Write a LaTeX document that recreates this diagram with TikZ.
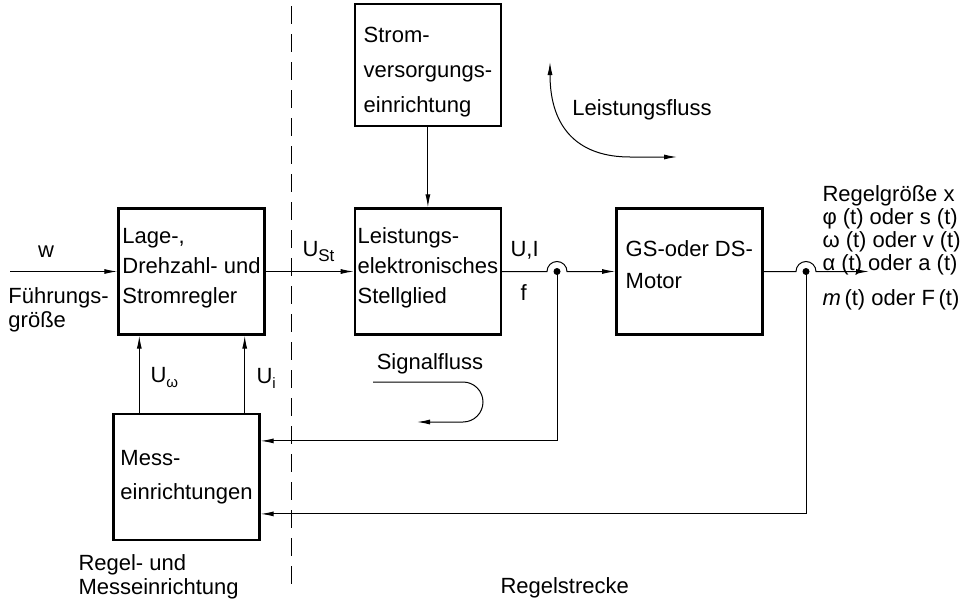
\documentclass[tikz,border=0pt]{standalone}
\usepackage{fontspec}
\setmainfont{Liberation Sans}
\usetikzlibrary{arrows.meta,positioning}

\begin{document}
\begin{tikzpicture}[x=1pt,y=-1pt, line width=1pt, >={Latex[length=13pt,width=5pt]},
  box/.style={draw,line width=2.4pt,minimum width=146pt,minimum height=126pt,align=left,inner xsep=2pt,inner ysep=4pt,font=\fontsize{22}{30}\selectfont},
  lbl/.style={inner sep=0pt,align=left,font=\fontsize{22}{24}\selectfont}]
\useasboundingbox (0,0) rectangle (962,605);
% blocks
\node[box] (rgl) at (191.5,271.5) {Lage-,\\Drehzahl- und\\Stromregler\\[-18pt]\mbox{}};
\node[box,right=88pt of rgl] (stg) {Leistungs-\\elektronisches\\Stellglied\\[-18pt]\mbox{}};
\node[box,above=80pt of stg,minimum height=122pt,font=\fontsize{22}{35}\selectfont] (svg) {\rule{0pt}{29pt}Strom-\\versorgungs-\\einrichtung};
\node[box,right=113pt of stg,font=\fontsize{22}{32}\selectfont] (mot) {GS-oder DS-\\Motor\\[-18pt]\mbox{}};
\node[box,below=77pt of rgl,xshift=-5pt,font=\fontsize{22}{34}\selectfont] (mes) {Mess-\\einrichtungen};
% separation line
\coordinate (sep1) at (291,6);
\coordinate (sep2) at (291,592);
\draw[dash pattern=on 18pt off 10pt] (sep1) -- (sep2);
% signal path
\coordinate (win) at (10,271.5);
\coordinate (j1) at (557,271.5);
\coordinate (j2) at (806,271.5);
\coordinate (xout) at (869,271.5);
\draw[->] (win) -- (rgl.west);
\draw[->] (rgl) -- (stg);
\draw[->] (svg) -- (stg);
\draw[->] (stg.east) -- ([xshift=-10pt]j1) arc[start angle=180,end angle=0,radius=10pt] -- (mot.west);
\draw[->] (mot.east) -- ([xshift=-10pt]j2) arc[start angle=180,end angle=0,radius=10pt] -- (xout);
\fill (j1) circle[radius=3.5pt];
\fill (j2) circle[radius=3.5pt];
% feedback
\draw[->] (j1) |- ([yshift=36pt]mes.east);
\draw[->] (j2) |- ([yshift=-37pt]mes.east);
\draw[->] ([xshift=27pt]mes.north west) -- ([xshift=22pt]rgl.south west);
\draw[->] ([xshift=-16pt]mes.north east) -- ([xshift=-21pt]rgl.south east);
% labels
\node[lbl] (w) at (46,252) {w};
\node[lbl,anchor=north west] (fg) at (8,287) {Führungs-\\größe};
\node[lbl,anchor=west] (ust) at (302,252) {U\raisebox{-5pt}{\fontsize{17}{17}\selectfont St}};
\node[lbl,anchor=west] (ui) at (510,250) {U,I};
\node[lbl,anchor=west] (f) at (520,293) {f};
\node[lbl,anchor=west] (uom) at (150,378) {U\raisebox{-5pt}{\fontsize{15}{15}\selectfont ω}};
\node[lbl,anchor=west] (uii) at (256,378) {U\raisebox{-5pt}{\fontsize{15}{15}\selectfont i}};
\node[lbl,anchor=north west,font=\fontsize{22}{23}\selectfont] (rx) at (822,185) {Regelgröße x\\φ (t) oder s (t)\\ω (t) oder v (t)\\α (t) oder a (t)};
\node[lbl,anchor=west] (mf) at (822,300) {\textit{m}\,(t) oder F\,(t)};
\node[lbl,anchor=north west] (rme) at (78,554) {Regel- und\\Messeinrichtung};
\node[lbl,anchor=west] (rst) at (500,588) {Regelstrecke};
% flow marks
\coordinate (sf1) at (373,382);
\coordinate (sf2) at (417,422);
\node[lbl] (sfl) at (430,364) {Signalfluss};
\draw[->] (sf1) -- (463,382) arc[start angle=90,end angle=-90,radius=20pt] -- (sf2);
\coordinate (lf1) at (550,62);
\coordinate (lf2) at (677,157);
\node[lbl] (lfl) at (642,110) {Leistungsfluss};
\draw[<->] (lf1) .. controls (550,130) and (580,157) .. (630,157) -- (lf2);
\end{tikzpicture}
\end{document}
